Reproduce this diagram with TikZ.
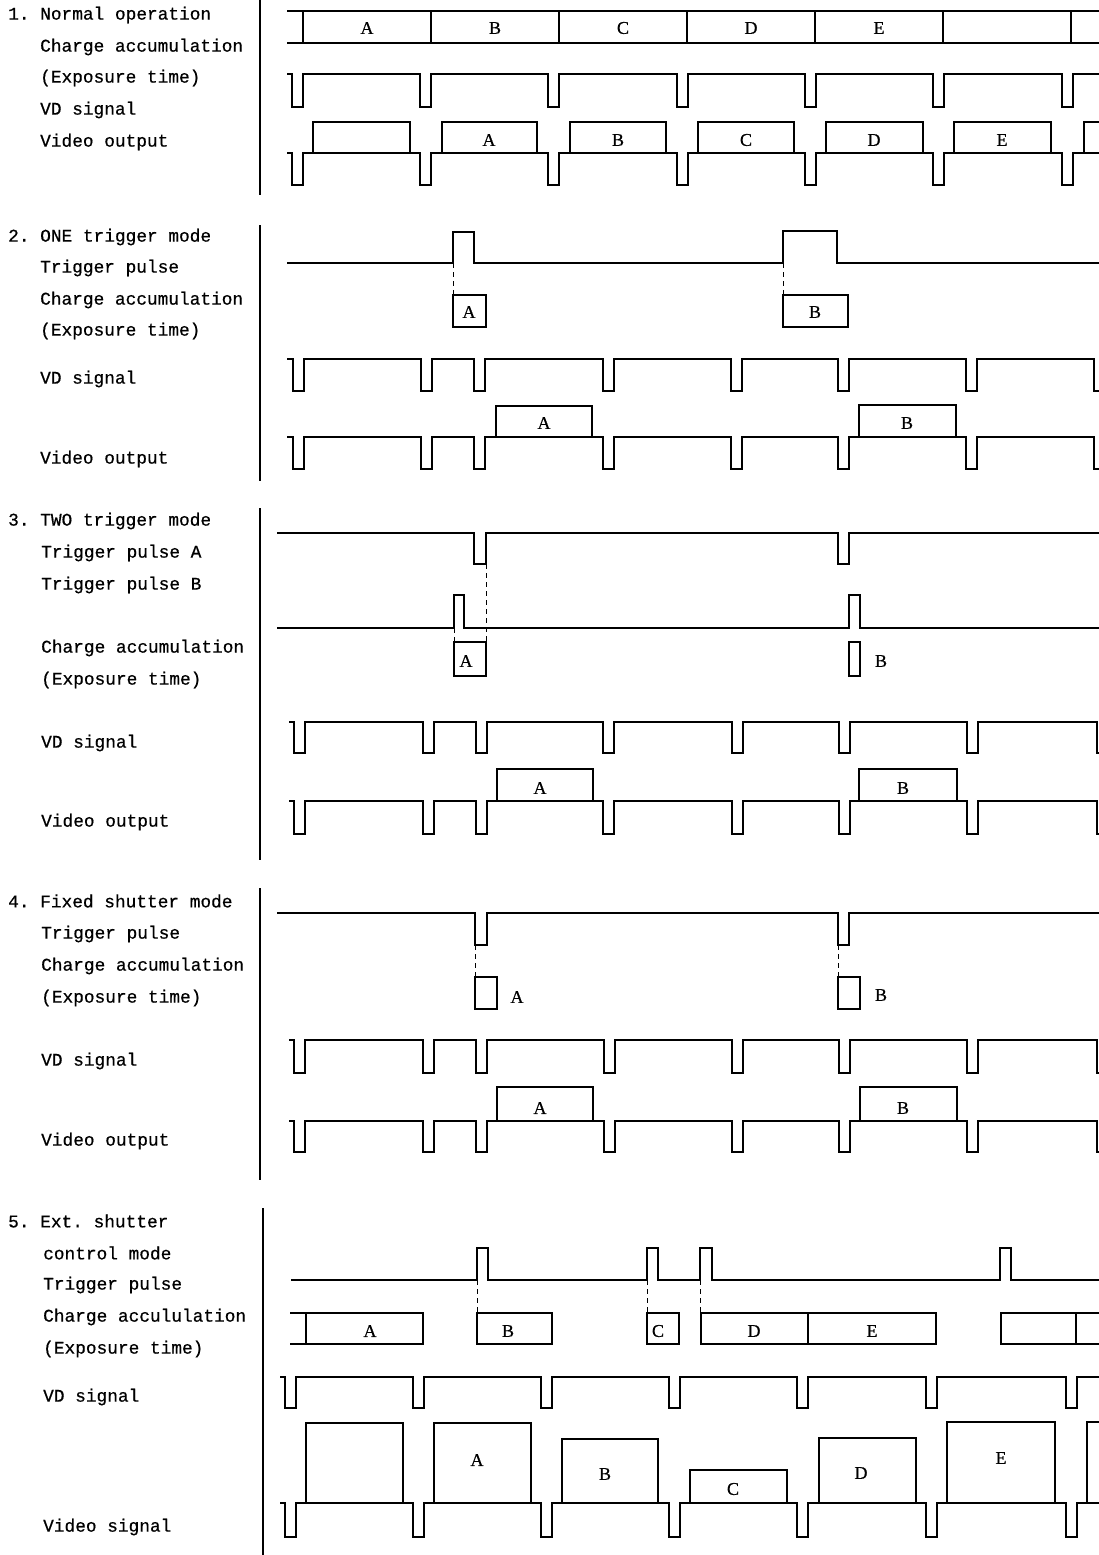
\documentclass[tikz,border=0pt]{standalone}
\usepackage{fontspec}
\newfontfamily\labelfont[FakeBold=0.6]{Liberation Mono}
\newfontfamily\tagfont[FakeBold=0.5]{Liberation Serif}
\frenchspacing
\begin{document}
\begin{tikzpicture}[x=1pt,y=-1pt,
  wave/.style={line width=1.6pt,line join=miter},
  guide/.style={line width=1pt,dash pattern=on 5pt off 4pt},
  rule/.style={line width=1.4pt},
  lbl/.style={anchor=west,inner sep=0pt,font=\labelfont\fontsize{17.8}{20}\selectfont},
  tag/.style={inner sep=0pt,font=\tagfont\fontsize{18}{20}\selectfont}
]
\useasboundingbox (0,0) rectangle (1099,1555);
\clip (0,0) rectangle (1099,1555);

% 1. normal operation
\draw[rule] (260,0) -- (260,195);
\node[lbl] (t1) at (8,15) {1. Normal operation};
\node[lbl] (t1ca) at (40,47) {Charge accumulation};
\node[lbl] (t1ex) at (40,78) {(Exposure time)};
\node[lbl] (t1vd) at (40,110) {VD signal};
\node[lbl] (t1vo) at (40,142) {Video output};
\draw[wave] (287,11) -- (1099,11) (287,43) -- (1099,43);
\foreach \x in {303,431,559,687,815,943,1071} \draw[wave] (\x,11) -- (\x,43);
\foreach \x/\t in {367/A,495/B,623/C,751/D,879/E} \node[tag] (ca1\t) at (\x,28) {\t};
\draw[wave] (287,74) \foreach \x in {292,420,548,677,805,933,1062} {-- (\x,74) -- (\x,107) -- (\x+11,107) -- (\x+11,74)} -- (1099,74);
\draw[wave] (287,153) \foreach \x in {292,420,548,677,805,933,1062} {-- (\x,153) -- (\x,185) -- (\x+11,185) -- (\x+11,153)} -- (1099,153);
\foreach \a/\b in {313/410,442/537,570/666,698/794,826/923,954/1051,1084/1120} \draw[wave] (\a,153) -- (\a,122) -- (\b,122) -- (\b,153);
\foreach \x/\t in {489/A,618/B,746/C,874/D,1002/E} \node[tag] (vo1\t) at (\x,140) {\t};

% 2. ONE trigger mode
\draw[rule] (260,225) -- (260,481);
\node[lbl] (t2) at (8,237) {2. ONE trigger mode};
\node[lbl] (t2tp) at (40,268) {Trigger pulse};
\node[lbl] (t2ca) at (40,300) {Charge accumulation};
\node[lbl] (t2ex) at (40,331) {(Exposure time)};
\node[lbl] (t2vd) at (40,379) {VD signal};
\node[lbl] (t2vo) at (40,459) {Video output};
\draw[wave] (287,263) -- (453,263) -- (453,232) -- (474,232) -- (474,263) -- (783,263) -- (783,231) -- (837,231) -- (837,263) -- (1099,263);
\draw[guide] (453,263) -- (453,295) (783,263) -- (783,295);
\draw[wave] (453,295) rectangle (486,327) (783,295) rectangle (848,327);
\node[tag] (ca2A) at (469,312) {A};
\node[tag] (ca2B) at (815,312) {B};
\draw[wave] (287,359) \foreach \x in {293,421,474,603,731,838,966,1094} {-- (\x,359) -- (\x,391) -- (\x+11,391) -- (\x+11,359)};
\draw[wave] (287,437) \foreach \x in {293,421,474,603,731,838,966,1094} {-- (\x,437) -- (\x,469) -- (\x+11,469) -- (\x+11,437)};
\draw[wave] (496,437) -- (496,406) -- (592,406) -- (592,437) (859,437) -- (859,405) -- (956,405) -- (956,437);
\node[tag] (vo2A) at (544,423) {A};
\node[tag] (vo2B) at (907,423) {B};

% 3. TWO trigger mode
\draw[rule] (260,508) -- (260,860);
\node[lbl] (t3) at (8,521) {3. TWO trigger mode};
\node[lbl] (t3ta) at (41,553) {Trigger pulse A};
\node[lbl] (t3tb) at (41,585) {Trigger pulse B};
\node[lbl] (t3ca) at (41,648) {Charge accumulation};
\node[lbl] (t3ex) at (41,680) {(Exposure time)};
\node[lbl] (t3vd) at (41,743) {VD signal};
\node[lbl] (t3vo) at (41,822) {Video output};
\draw[wave] (277,533) -- (474,533) -- (474,564) -- (486,564) -- (486,533) -- (838,533) -- (838,564) -- (849,564) -- (849,533) -- (1099,533);
\draw[wave] (277,628) -- (454,628) -- (454,595) -- (464,595) -- (464,628) -- (849,628) -- (849,595) -- (860,595) -- (860,628) -- (1099,628);
\draw[guide] (486,564) -- (486,642) (454,628) -- (454,642);
\draw[wave] (454,642) rectangle (486,676) (849,642) rectangle (860,676);
\node[tag] (ca3A) at (466,661) {A};
\node[tag] (ca3B) at (881,661) {B};
\draw[wave] (289,722) \foreach \x in {294,423,476,603,732,839,967,1097} {-- (\x,722) -- (\x,753) -- (\x+11,753) -- (\x+11,722)};
\draw[wave] (289,801) \foreach \x in {294,423,476,603,732,839,967,1097} {-- (\x,801) -- (\x,834) -- (\x+11,834) -- (\x+11,801)};
\draw[wave] (497,801) -- (497,769) -- (593,769) -- (593,801) (859,801) -- (859,769) -- (957,769) -- (957,801);
\node[tag] (vo3A) at (540,788) {A};
\node[tag] (vo3B) at (903,788) {B};

% 4. Fixed shutter mode
\draw[rule] (260,888) -- (260,1180);
\node[lbl] (t4) at (8,901) {4. Fixed shutter mode};
\node[lbl] (t4tp) at (41,934) {Trigger pulse};
\node[lbl] (t4ca) at (41,966) {Charge accumulation};
\node[lbl] (t4ex) at (41,998) {(Exposure time)};
\node[lbl] (t4vd) at (41,1061) {VD signal};
\node[lbl] (t4vo) at (41,1141) {Video output};
\draw[wave] (277,913) -- (475,913) -- (475,945) -- (487,945) -- (487,913) -- (838,913) -- (838,945) -- (849,945) -- (849,913) -- (1099,913);
\draw[guide] (475,945) -- (475,977) (838,945) -- (838,977);
\draw[wave] (475,977) rectangle (497,1009) (838,977) rectangle (860,1009);
\node[tag] (ca4A) at (517,997) {A};
\node[tag] (ca4B) at (881,995) {B};
\draw[wave] (289,1040) \foreach \x in {294,423,476,604,732,839,967,1097} {-- (\x,1040) -- (\x,1073) -- (\x+11,1073) -- (\x+11,1040)};
\draw[wave] (289,1121) \foreach \x in {294,423,476,604,732,839,967,1097} {-- (\x,1121) -- (\x,1152) -- (\x+11,1152) -- (\x+11,1121)};
\draw[wave] (497,1121) -- (497,1087) -- (593,1087) -- (593,1121) (860,1121) -- (860,1087) -- (957,1087) -- (957,1121);
\node[tag] (vo4A) at (540,1108) {A};
\node[tag] (vo4B) at (903,1108) {B};

% 5. Ext. shutter control mode
\draw[rule] (263,1208) -- (263,1555);
\node[lbl] (t5) at (8,1221) {5. Ext. shutter};
\node[lbl] (t5cm) at (43,1253) {control mode};
\node[lbl] (t5tp) at (43,1285) {Trigger pulse};
\node[lbl] (t5ca) at (43,1317) {Charge accululation};
\node[lbl] (t5ex) at (43,1349) {(Exposure time)};
\node[lbl] (t5vd) at (43,1397) {VD signal};
\node[lbl] (t5vs) at (43,1527) {Video signal};
\draw[wave] (291,1280) \foreach \a/\b in {477/488,647/658,700/712,1000/1011} {-- (\a,1280) -- (\a,1248) -- (\b,1248) -- (\b,1280)} -- (1099,1280);
\draw[guide] (477,1280) -- (477,1313) (647,1280) -- (647,1313) (700,1280) -- (700,1313);
\draw[wave] (290,1313) -- (306,1313) (290,1344) -- (306,1344);
\draw[wave] (306,1313) rectangle (423,1344) (477,1313) rectangle (552,1344) (647,1313) rectangle (679,1344);
\draw[wave] (701,1313) rectangle (936,1344) (808,1313) -- (808,1344);
\draw[wave] (1110,1313) -- (1001,1313) -- (1001,1344) -- (1110,1344) (1076,1313) -- (1076,1344);
\foreach \x/\t in {370/A,508/B,658/C,754/D,872/E} \node[tag] (ca5\t) at (\x,1331) {\t};
\draw[wave] (280,1377) \foreach \x in {285,413,541,669,797,926,1066} {-- (\x,1377) -- (\x,1408) -- (\x+11,1408) -- (\x+11,1377)} -- (1099,1377);
\draw[wave] (280,1503) \foreach \x in {285,413,541,669,797,926,1066} {-- (\x,1503) -- (\x,1537) -- (\x+11,1537) -- (\x+11,1503)} -- (1099,1503);
\foreach \a/\b/\h in {306/403/1423,434/531/1423,562/658/1439,690/787/1470,819/916/1438,947/1055/1422,1087/1120/1422} \draw[wave] (\a,1503) -- (\a,\h) -- (\b,\h) -- (\b,1503);
\node[tag] (vs5A) at (477,1460) {A};
\node[tag] (vs5B) at (605,1474) {B};
\node[tag] (vs5C) at (733,1489) {C};
\node[tag] (vs5D) at (861,1473) {D};
\node[tag] (vs5E) at (1001,1458) {E};
\end{tikzpicture}
\end{document}
